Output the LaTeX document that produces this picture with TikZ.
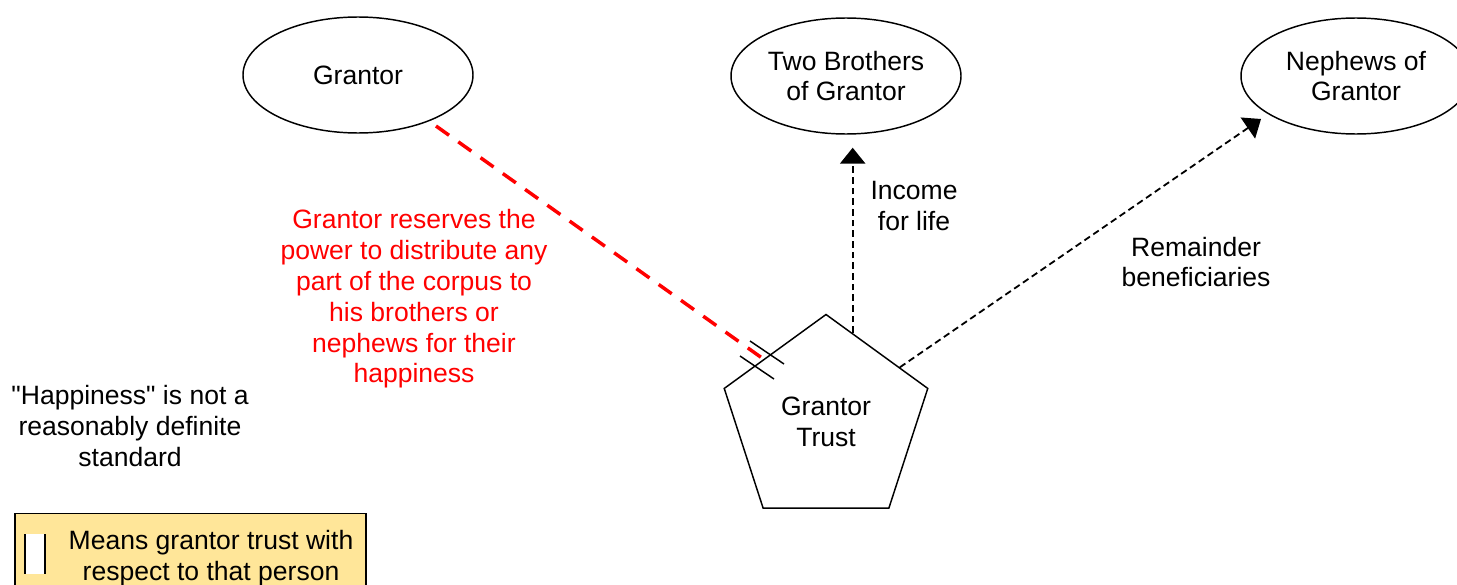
\documentclass[tikz,border=0pt]{standalone}
\usepackage{fontspec}
\setmainfont{Liberation Sans}
\usetikzlibrary{arrows.meta, positioning, shapes.geometric, calc}

\definecolor{keyfill}{RGB}{255,230,153}
\newcommand{\diagfont}{\fontsize{19.9pt}{23.1pt}\selectfont}

\begin{document}
\begin{tikzpicture}[
    x=0.75pt, y=-0.75pt,
    party/.style = {draw, line width=1.1pt, ellipse, minimum width=172.5pt, minimum height=87pt, inner sep=0pt, align=center, font=\diagfont},
    trust/.style = {draw, line width=1.1pt, regular polygon, regular polygon sides=5, minimum size=160.5pt, inner sep=0pt, align=center, font=\diagfont},
    note/.style = {align=center, inner sep=0pt, font=\diagfont},
    power/.style = {red, line width=2.6pt, dash pattern=on 12pt off 8.5pt},
    flow/.style = {line width=1.35pt, dash pattern=on 5pt off 3pt, -{Triangle[width=19pt, length=12pt]}},
    grantbar/.style = {line width=1.1pt},
  ]

  \useasboundingbox (0,0) rectangle (1457,585);
  \clip (0,0) rectangle (1457,585);

  % Nodes
  \node[party] (grantor) at (358,75) {Grantor};
  \node[party] (brothers) at (846,76) {Two Brothers\\of Grantor};
  \node[party] (nephews) at (1356,76) {Nephews of\\Grantor};
  \node[trust] (trust) at (826,421.5) {Grantor\\Trust};

  % Labels
  \node[note, text=red] (reserve) at (414,299) {Grantor reserves the\\power to distribute any\\part of the corpus to\\his brothers or\\nephews for their\\happiness};
  \node[note] (income) at (914,206) {Income\\for life};
  \node[note] (remainder) at (1196,262) {Remainder\\beneficiaries};
  \node[note] (standard) at (130,426) {\textquotedbl Happiness\textquotedbl{} is not a\\reasonably definite\\standard};

  % Legend
  \node[draw, line width=1.1pt, fill=keyfill, minimum width=263.25pt, minimum height=64pt, inner sep=0pt] (key) at (190.5,556) {};
  \node[note] (keytext) at (211,558) {Means grantor trust with\\respect to that person};
  \fill[white] (25,534) rectangle (45,574);
  \draw[grantbar, line width=1.6pt] (25,534) -- (25,574) (45,534) -- (45,574);

  % Connectors
  \coordinate (reservestart) at ($(grantor.center)+(78,51)$);
  \coordinate (reserveend) at (769,363);
  \coordinate (barmid) at (762,360);
  \coordinate (incomestart) at ($(trust.corner 1)!0.26!(trust.corner 5)$);
  \coordinate (incometip) at ($(brothers.south)+(0,13)$);
  \coordinate (remstart) at ($(trust.corner 1)!0.72!(trust.corner 5)$);
  \coordinate (remtip) at ($(nephews.center)+(-95,43)$);

  \draw[grantbar] ($(barmid)+(-12,-19)$) -- ++(34,23);
  \draw[grantbar] ($(barmid)+(-22,-4)$) -- ++(34,23);
  \draw[power] (reservestart) -- (reserveend);
  \draw[flow] (incomestart) -- (incomestart |- incometip);
  \draw[flow] (remstart) -- (remtip);

\end{tikzpicture}
\end{document}
